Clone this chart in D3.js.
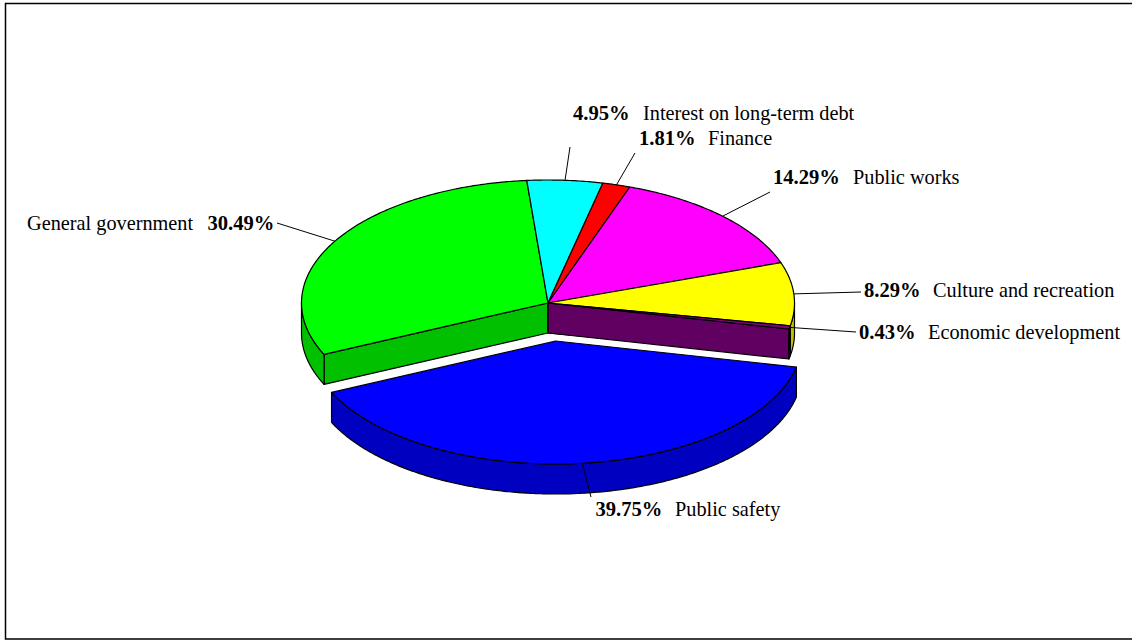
<!DOCTYPE html>
<html>
<head>
<meta charset="utf-8">
<script src="https://cdn.jsdelivr.net/npm/d3@7"></script>
<style>
  html, body { margin: 0; padding: 0; background: #fff; overflow: hidden; }
  svg { display: block; }
  text { font-family: "Liberation Serif", serif; font-size: 20.3px; fill: #000; }
  text.pct { font-weight: bold; font-size: 20.6px; }
</style>
</head>
<body>
<script>
// values in drawing order, clockwise from the cut at lower left
const categories = ["General government", "Interest on long-term debt", "Finance", "Public works",
  "Culture and recreation", "Economic development", "Public safety"];
const percents = [30.49, 4.95, 1.81, 14.29, 8.29, 0.43, 39.75];
const topColors = ["#00ff00", "#00ffff", "#ff0000", "#ff00ff", "#ffff00", "#800080", "#0000ff"];
const sideColors = ["#00c000", "#00c0c0", "#c00000", "#c000c0", "#c0c000", "#600060", "#0000c0"];

const width = 1132, height = 640;
const cx = 548, cy = 303, rx = 246.5, ry = 123, depth = 30;
const explode = { "Public safety": [7.5, 38] };

// label layout: x of the percentage, x of the name, baseline y, leader end
const labels = [
  { x: 207.5, nameX: 27, y: 230, end: [277, 223] },
  { x: 573, nameX: 643, y: 120, end: [570, 147] },
  { x: 639, nameX: 708, y: 145, end: [635, 153] },
  { x: 773, nameX: 853, y: 184, end: [770, 192] },
  { x: 864, nameX: 933, y: 297, end: [861, 292] },
  { x: 859, nameX: 928, y: 339, end: [856, 332] },
  { x: 595.5, nameX: 675, y: 516, end: [591, 497] }
];

const svg = d3.select("body").append("svg")
  .attr("width", width)
  .attr("height", height);

svg.append("rect")
  .attr("x", 5.5).attr("y", 3.5)
  .attr("width", width).attr("height", 635.5)
  .attr("fill", "#fff")
  .attr("stroke", "#000")
  .attr("stroke-width", 1.5);

// pie angles, 0 at twelve o'clock going clockwise
const startDeg = 245.3;
const slices = d3.pie().sort(null).startAngle(startDeg * Math.PI / 180)
  .endAngle((startDeg + 360) * Math.PI / 180)(percents);

const ex = d3.scaleLinear().domain([-1, 1]).range([-rx, rx]);
const ey = d3.scaleLinear().domain([-1, 1]).range([-ry, ry]);

function offset(i) { return explode[categories[i]] || [0, 0]; }
function px(i, a) { return cx + offset(i)[0] + ex(Math.sin(a)); }
function py(i, a) { return cy + offset(i)[1] + ey(-Math.cos(a)); }

function rim(i, a0, a1, dy) {
  const n = Math.max(2, Math.ceil(Math.abs(a1 - a0) / 0.01));
  return d3.range(n + 1).map(k => {
    const a = a0 + (a1 - a0) * k / n;
    return [px(i, a), py(i, a) + dy];
  });
}

const line = d3.line();
const pieG = svg.append("g").attr("stroke", "#000").attr("stroke-width", 1.2).attr("stroke-linejoin", "round");

function drawSides(i) {
  const s = slices[i], o = offset(i);
  const c = [cx + o[0], cy + o[1]];
  const tau = 2 * Math.PI;
  // radial cut faces that look to the viewer
  [s.startAngle, s.endAngle].forEach(a => {
    const side = Math.sin(a);
    const facing = a === s.startAngle ? side < 0 : side > 0;
    if (!facing) return;
    const p = [px(i, a), py(i, a)];
    pieG.append("path")
      .attr("d", line([c, p, [p[0], p[1] + depth], [c[0], c[1] + depth]]) + "Z")
      .attr("fill", sideColors[i]);
  });
  // outer wall, only the lower half of the ellipse shows
  [0, tau].forEach(shift => {
    const a0 = Math.max(s.startAngle, Math.PI / 2 + shift);
    const a1 = Math.min(s.endAngle, 3 * Math.PI / 2 + shift);
    if (a1 <= a0) return;
    const bottom = rim(i, a1, a0, depth);
    pieG.append("path")
      .attr("d", line(rim(i, a0, a1, 0).concat(bottom)) + "Z")
      .attr("fill", sideColors[i]);
  });
}

function drawTop(i) {
  const s = slices[i], o = offset(i);
  pieG.append("path")
    .attr("d", line([[cx + o[0], cy + o[1]]].concat(rim(i, s.startAngle, s.endAngle, 0))) + "Z")
    .attr("fill", topColors[i]);
}

[0, 4, 5].forEach(drawSides);
d3.range(6).forEach(drawTop);
drawSides(6);
drawTop(6);

// leaders and labels
slices.forEach((s, i) => {
  const mid = (s.startAngle + s.endAngle) / 2;
  const l = labels[i];
  svg.append("line")
    .attr("x1", px(i, mid)).attr("y1", py(i, mid))
    .attr("x2", l.end[0]).attr("y2", l.end[1])
    .attr("stroke", "#000").attr("stroke-width", 1);
  svg.append("text").attr("class", "pct").attr("x", l.x).attr("y", l.y)
    .text(d3.format(".2f")(percents[i]) + "%");
  svg.append("text").attr("x", l.nameX).attr("y", l.y)
    .text(categories[i]);
});
</script>
</body>
</html>
